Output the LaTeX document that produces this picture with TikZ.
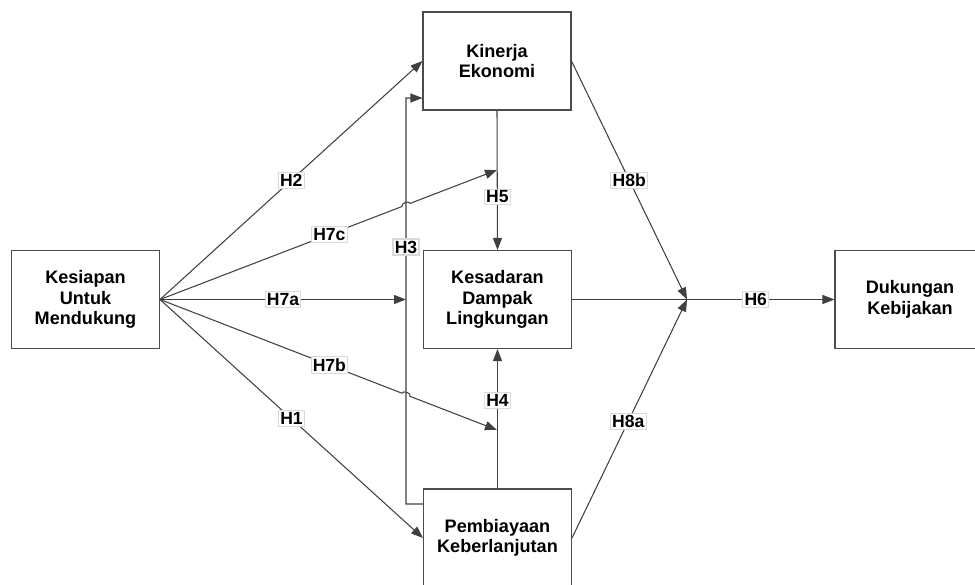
\documentclass[tikz,border=0pt]{standalone}
\usepackage{fontspec}
\setmainfont{Liberation Sans}
\usetikzlibrary{arrows.meta,calc}

\tikzset{
	box/.style={draw=black!70, line width=0.6pt, minimum width=2.96cm, minimum height=1.96cm, align=center, font=\fontsize{10.3}{11.6}\selectfont\bfseries},
	hyp/.style={fill=white, draw=black!15, inner sep=1pt, font=\fontsize{10}{12}\selectfont\bfseries},
	arr/.style={draw=black!75, line width=0.6pt, -{Triangle[length=2.4mm,width=1.8mm]}},
	ln/.style={draw=black!75, line width=0.6pt}
}

\begin{document}
\begin{tikzpicture}[x=0.02cm, y=-0.02cm]
	\useasboundingbox (0,0) rectangle (975,585);

	\node[box] (kesiapan) at (85.5,299.5) {Kesiapan\\Untuk\\Mendukung};
	\node[box] (kinerja) at (497,61) {Kinerja\\Ekonomi};
	\node[box] (kesadaran) at (497.5,299.5) {Kesadaran\\Dampak\\Lingkungan};
	\node[box] (pembiayaan) at (497.5,538) {Pembiayaan\\Keberlanjutan};
	\node[box, minimum width=3cm] (dukungan) at (910,299.5) {Dukungan\\Kebijakan};

	\coordinate (h7a) at (406,299.5);
	\coordinate (h7c) at (497,170);
	\coordinate (h7b) at (497,430);
	\coordinate (jn) at (687,299.5);

	% dari kesiapan
	\draw[arr] (kesiapan.east) -- node[hyp,pos=0.5] {H2} (kinerja.west);
	\draw[arr] (kesiapan.east) -- node[hyp,pos=0.5] {H1} (pembiayaan.west);
	\draw[arr] (kesiapan.east) -- node[hyp,pos=0.5] {H7a} (h7a);
	\draw[arr] (kesiapan.east) -- node[hyp,pos=0.7] {H7c} ($(kesiapan.east)!0.718!(h7c)$)
		to[bend left=90] ($(kesiapan.east)!0.742!(h7c)$) -- (h7c);
	\draw[arr] (kesiapan.east) -- node[hyp,pos=0.7] {H7b} ($(kesiapan.east)!0.718!(h7b)$)
		to[bend left=90] ($(kesiapan.east)!0.742!(h7b)$) -- (h7b);

	% H3
	\draw[arr] ([yshift=0.68cm]pembiayaan.west) -- (406,504) -- node[hyp,pos=0.633] {H3} (406,98) -- ([yshift=-0.74cm]kinerja.west);

	\draw[arr] (kinerja.south) -- node[hyp,pos=0.62] {H5} (kesadaran.north);
	\draw[arr] (pembiayaan.north) -- node[hyp,pos=0.63] {H4} (kesadaran.south);

	\draw[arr] (kesadaran.east) -- node[hyp,pos=0.7] {H6} (dukungan.west);
	\draw[arr] (kinerja.east) -- node[hyp,pos=0.5] {H8b} (jn);
	\draw[arr] (pembiayaan.east) -- node[hyp,pos=0.49] {H8a} (jn);

\end{tikzpicture}
\end{document}
